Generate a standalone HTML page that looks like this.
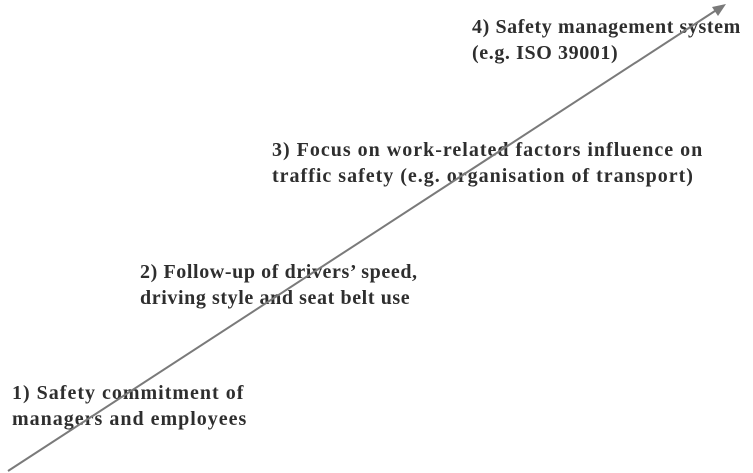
<!DOCTYPE html>
<html><head><meta charset="utf-8"><style>
html,body{margin:0;padding:0;background:#fff;}
body{width:753px;height:473px;position:relative;overflow:hidden;font-family:"Liberation Serif",serif;font-weight:bold;color:#2e2e2e;font-size:20px;line-height:26px;letter-spacing:0.6px;}
.t{position:absolute;white-space:nowrap;}
svg{position:absolute;left:0;top:0;}
</style></head><body>
<div class="t" style="left:472px;top:14px;">4) Safety management system<br>(e.g. ISO 39001)</div>
<div class="t" style="left:272px;top:137px;letter-spacing:1px;">3) Focus on work-related factors influence on<br>traffic safety (e.g. organisation of transport)</div>
<div class="t" style="left:140px;top:259px;">2) Follow-up of drivers’ speed,<br>driving style and seat belt use</div>
<div class="t" style="left:12px;top:380px;letter-spacing:1px;">1) Safety commitment of<br>managers and employees</div>
<svg width="753" height="473">
<line x1="8" y1="471" x2="718" y2="9" stroke="#7a7a7a" stroke-width="2"/>
<polygon points="726,4 712,7 718,16" fill="#7a7a7a"/>
</svg>
</body></html>
